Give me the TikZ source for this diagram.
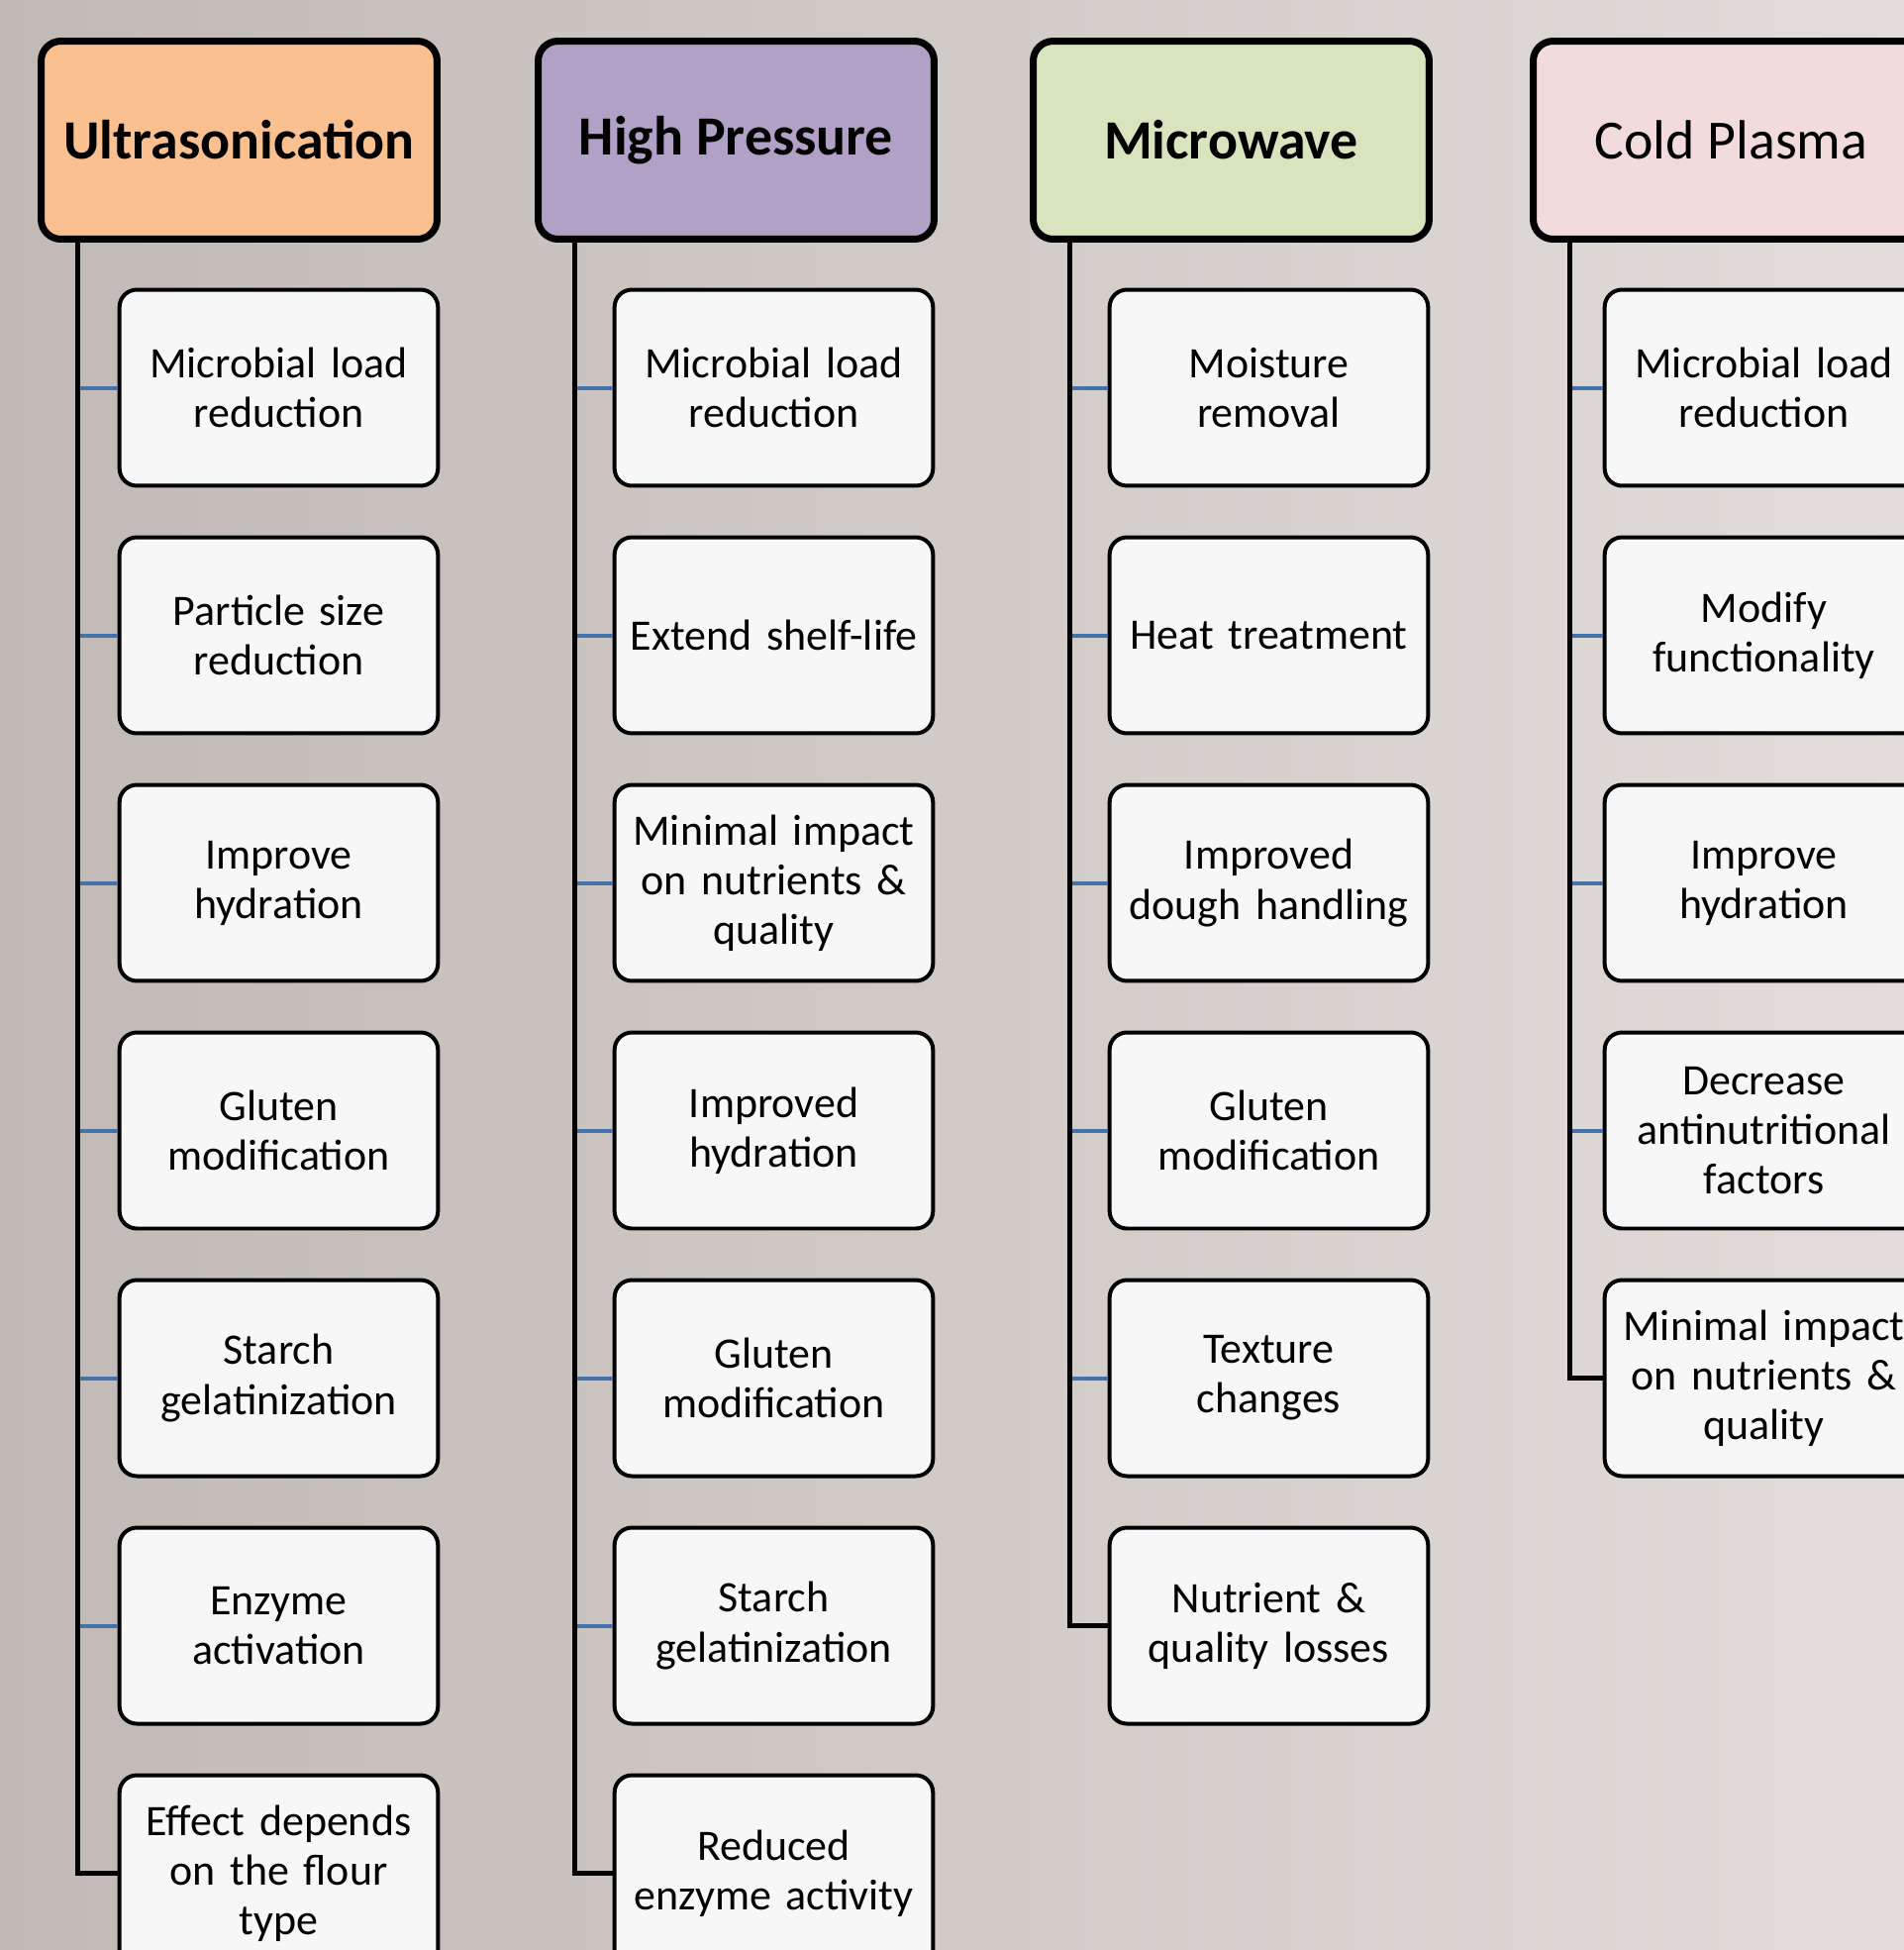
\documentclass[tikz,border=0pt]{standalone}
\usepackage{fontspec}
\setmainfont{Carlito}
\usetikzlibrary{calc,positioning}

\definecolor{ultraorange}{RGB}{250,192,143}
\definecolor{presspurple}{RGB}{178,161,199}
\definecolor{microgreen}{RGB}{215,228,189}
\definecolor{plasmapink}{RGB}{242,220,219}
\definecolor{stubblue}{RGB}{68,114,170}
\definecolor{bgleft}{RGB}{192,185,182}
\definecolor{bgright}{RGB}{226,221,218}

\begin{document}
\begin{tikzpicture}
[x=0.02cm, y=-0.02cm,
head/.style={rectangle, rounded corners=0.4cm, draw=black, line width=0.14cm,
minimum width=8cm, minimum height=4cm,
font=\fontsize{31.8}{38}\selectfont\bfseries},
item/.style={rectangle, rounded corners=0.35cm, draw=black, line width=0.08cm,
fill=white!97!black, minimum width=6.4cm, minimum height=3.96cm,
text width=6.2cm, align=center, font=\fontsize{25}{28.5}\selectfont},
trunk/.style={draw=black, line width=0.1cm},
stub/.style={draw=stubblue, line width=0.08cm}]
\useasboundingbox (0,0) rectangle (1923,1969);
\clip (0,0) rectangle (1923,1969);
\shade[left color=bgleft, right color=bgright] (0,0) rectangle (1923,1969);

\node[head, fill=ultraorange] (ultra) at (241.5,141.5) {Ultrasonication};
\node[head, fill=presspurple] (press) at (743.5,141.5) {High Pressure};
\node[head, fill=microgreen] (micro) at (1243.5,141.5) {Microwave};
\node[head, fill=plasmapink, font=\fontsize{31.8}{38}\selectfont] (plasma) at (1748.5,141.5) {Cold Plasma};

\node[item] (us1) at (281.5,391.5) {Microbial load\\reduction};
\node[item] (us2) at (281.5,641.5) {Particle size\\reduction};
\node[item] (us3) at (281.5,891.5) {Improve\\hydration};
\node[item] (us4) at (281.5,1141.5) {Gluten\\modification};
\node[item] (us5) at (281.5,1391.5) {Starch\\gelatinization};
\node[item] (us6) at (281.5,1641.5) {Enzyme\\activation};
\node[item] (us7) at (281.5,1891.5) {Effect depends\\on the flour\\type};

\node[item] (hp1) at (781.5,391.5) {Microbial load\\reduction};
\node[item] (hp2) at (781.5,641.5) {Extend shelf-life};
\node[item] (hp3) at (781.5,891.5) {Minimal impact\\on nutrients \&\\quality};
\node[item] (hp4) at (781.5,1141.5) {Improved\\hydration};
\node[item] (hp5) at (781.5,1391.5) {Gluten\\modification};
\node[item] (hp6) at (781.5,1641.5) {Starch\\gelatinization};
\node[item] (hp7) at (781.5,1891.5) {Reduced\\enzyme activity};

\node[item] (mw1) at (1281.5,391.5) {Moisture\\removal};
\node[item] (mw2) at (1281.5,641.5) {Heat treatment};
\node[item] (mw3) at (1281.5,891.5) {Improved\\dough handling};
\node[item] (mw4) at (1281.5,1141.5) {Gluten\\modification};
\node[item] (mw5) at (1281.5,1391.5) {Texture\\changes};
\node[item] (mw6) at (1281.5,1641.5) {Nutrient \&\\quality losses};

\node[item] (cp1) at (1781.5,391.5) {Microbial load\\reduction};
\node[item] (cp2) at (1781.5,641.5) {Modify\\functionality};
\node[item] (cp3) at (1781.5,891.5) {Improve\\hydration};
\node[item] (cp4) at (1781.5,1141.5) {Decrease\\antinutritional\\factors};
\node[item] (cp5) at (1781.5,1391.5) {Minimal impact\\on nutrients \&\\quality};

\coordinate (ultraT) at ([xshift=0.8cm]ultra.south west);
\coordinate (pressT) at ([xshift=0.8cm]press.south west);
\coordinate (microT) at ([xshift=0.8cm]micro.south west);
\coordinate (plasmaT) at ([xshift=0.8cm]plasma.south west);

% blue branches
\draw[stub] (us1.west) -- (us1.west -| ultraT);
\draw[stub] (us2.west) -- (us2.west -| ultraT);
\draw[stub] (us3.west) -- (us3.west -| ultraT);
\draw[stub] (us4.west) -- (us4.west -| ultraT);
\draw[stub] (us5.west) -- (us5.west -| ultraT);
\draw[stub] (us6.west) -- (us6.west -| ultraT);
\draw[stub] (hp1.west) -- (hp1.west -| pressT);
\draw[stub] (hp2.west) -- (hp2.west -| pressT);
\draw[stub] (hp3.west) -- (hp3.west -| pressT);
\draw[stub] (hp4.west) -- (hp4.west -| pressT);
\draw[stub] (hp5.west) -- (hp5.west -| pressT);
\draw[stub] (hp6.west) -- (hp6.west -| pressT);
\draw[stub] (mw1.west) -- (mw1.west -| microT);
\draw[stub] (mw2.west) -- (mw2.west -| microT);
\draw[stub] (mw3.west) -- (mw3.west -| microT);
\draw[stub] (mw4.west) -- (mw4.west -| microT);
\draw[stub] (mw5.west) -- (mw5.west -| microT);
\draw[stub] (cp1.west) -- (cp1.west -| plasmaT);
\draw[stub] (cp2.west) -- (cp2.west -| plasmaT);
\draw[stub] (cp3.west) -- (cp3.west -| plasmaT);
\draw[stub] (cp4.west) -- (cp4.west -| plasmaT);

% black trunks
\draw[trunk] (ultraT) |- (us7.west);
\draw[trunk] (pressT) |- (hp7.west);
\draw[trunk] (microT) |- (mw6.west);
\draw[trunk] (plasmaT) |- (cp5.west);
\end{tikzpicture}
\end{document}
